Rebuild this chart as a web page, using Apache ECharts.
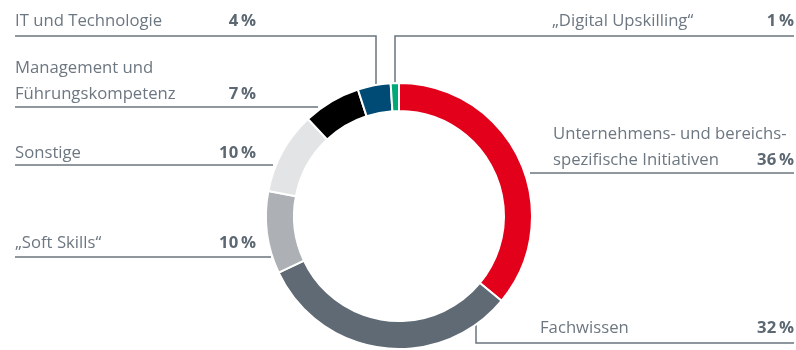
<!DOCTYPE html>
<html>
<head>
<meta charset="utf-8">
<script src="https://cdn.jsdelivr.net/npm/echarts@6/dist/echarts.min.js"></script>
<style>
  html, body { margin: 0; padding: 0; background: #ffffff; }
  #chart { width: 796px; height: 350px; }
</style>
</head>
<body>
<div id="chart"></div>
<script>
// Weiterbildungsschwerpunkte (Anteile in %), im Uhrzeigersinn ab 12 Uhr
const categories = [
  'Unternehmens- und bereichs-\nspezifische Initiativen',
  'Fachwissen',
  '„Soft Skills“',
  'Sonstige',
  'Management und\nFührungskompetenz',
  'IT und Technologie',
  '„Digital Upskilling“'
];
const shares = [36, 32, 10, 10, 7, 4, 1];

const sliceColors = ['#e2001a', '#5f6a74', '#adb1b5', '#e3e4e5', '#000000', '#004b75', '#00a878'];

// Label placement: left x, right x (percent edge), top y of text block, and leader line path
const labelBoxes = [
  { x: 553, right: 794, y: 121, line: [[530, 173], [794, 173]] },
  { x: 540, right: 794, y: 315, line: [[476, 324], [476, 343], [794, 343]] },
  { x: 15,  right: 256, y: 230, line: [[15, 257], [271, 257]] },
  { x: 15,  right: 256, y: 140, line: [[15, 165], [273, 165]] },
  { x: 15,  right: 256, y: 55,  line: [[15, 107], [318, 107]] },
  { x: 15,  right: 256, y: 8,   line: [[15, 36], [376, 36], [376, 84]] },
  { x: 552, right: 794, y: 8,   line: [[794, 36], [395, 36], [395, 84]] }
];

const textColor = '#6d7781';
const pctColor = '#5d6872';
const fontFamily = '"Open Sans", "Noto Sans", sans-serif';
const fontSize = 16.7;
const pctWidth = 50;

function labelText(i) {
  const box = labelBoxes[i];
  const lines = categories[i].split('\n');
  const pct = '{v|' + shares[i] + '\u2009%}';
  return lines.map(function (ln, k) {
    return '{n' + i + '|' + ln + '}' + (k === lines.length - 1 ? pct : '');
  }).join('\n');
}

const rich = {
  v: { fontFamily: fontFamily, fontSize: fontSize, fontWeight: 'bold', color: pctColor, width: pctWidth, align: 'right', lineHeight: 26 }
};
labelBoxes.forEach(function (box, i) {
  rich['n' + i] = {
    fontFamily: fontFamily, fontSize: fontSize, color: textColor,
    width: box.right - box.x - pctWidth, align: 'left', lineHeight: 26
  };
});

const chart = echarts.init(document.getElementById('chart'), null, { renderer: 'canvas' });

chart.setOption({
  animation: false,
  backgroundColor: '#ffffff',
  series: [{
    type: 'pie',
    center: [399, 216],
    radius: [105, 133],
    startAngle: 90,
    clockwise: true,
    avoidLabelOverlap: false,
    itemStyle: { borderColor: '#ffffff', borderWidth: 2 },
    label: {
      show: true,
      position: 'outside',
      formatter: function (p) { return labelText(p.dataIndex); },
      rich: rich
    },
    labelLine: {
      show: true,
      lineStyle: { color: '#6b747d', width: 1.5 }
    },
    labelLayout: function (p) {
      const box = labelBoxes[p.dataIndex];
      return {
        x: box.x,
        y: box.y,
        align: 'left',
        verticalAlign: 'top',
        labelLinePoints: box.line
      };
    },
    emphasis: { disabled: true },
    data: categories.map(function (c, i) {
      return { name: c, value: shares[i], itemStyle: { color: sliceColors[i] } };
    })
  }]
});
</script>
</body>
</html>
